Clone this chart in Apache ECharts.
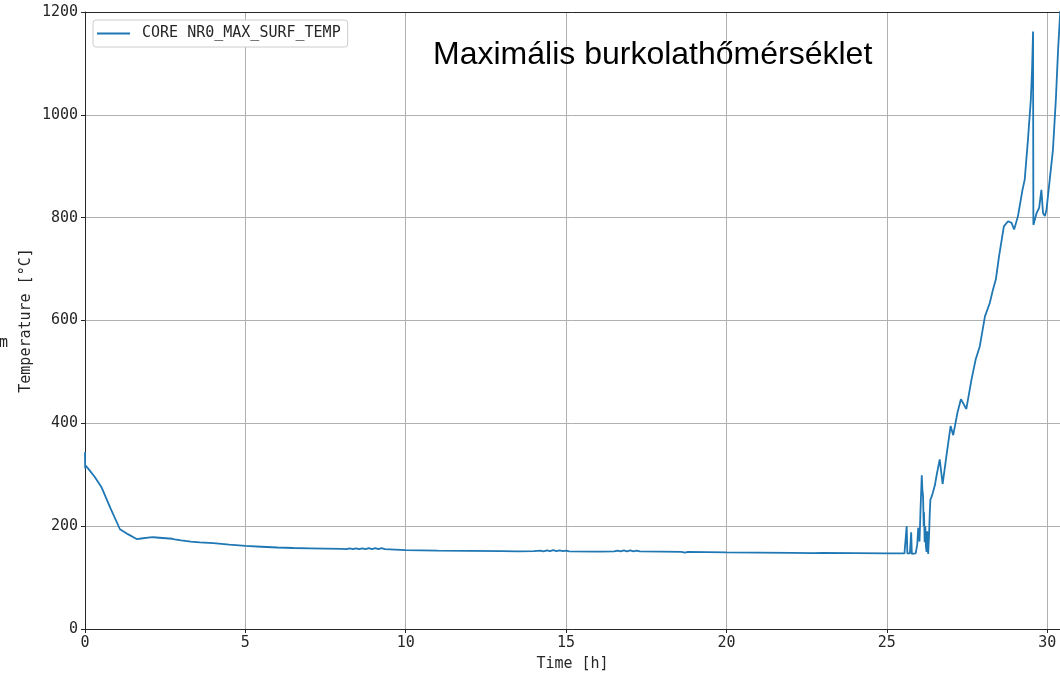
<!DOCTYPE html>
<html>
<head>
<meta charset="utf-8">
<script src="https://cdn.jsdelivr.net/npm/echarts@6/dist/echarts.min.js"></script>
<style>
  html, body { margin: 0; padding: 0; background: #fff; }
  #chart { width: 1060px; height: 677px; }
</style>
</head>
<body>
<div id="chart"></div>
<script>
// Maximum cladding surface temperature of core NR0 over time.
// Time in hours, temperature in °C.

// Early cool-down after start
const coolTime = [0, 0.005, 0.02, 0.1, 0.3, 0.52, 0.8, 1.09, 1.35, 1.61, 1.75, 2.03,
  2.08, 2.12, 2.17, 2.22, 2.27, 2.32, 2.37, 2.42, 2.47, 2.52, 2.57, 2.62, 2.67, 2.72, 2.8,
  3.0, 3.3, 3.58, 4.0, 4.5];
const coolTemp = [344, 312, 318, 312, 296, 275, 234, 194, 184, 175, 176, 178,
  176.5, 178.5, 176, 178, 175.5, 177.5, 175.5, 177, 175, 176.5, 174.5, 176, 174.5, 175.5, 174.5,
  172.5, 170, 168.5, 167, 164];

// Long quasi-steady plateau
const plateauTime = [5, 5.5, 6, 6.5, 7, 7.5, 8, 8.05, 8.15, 8.25, 8.35, 8.45, 8.55, 8.65, 8.75,
  8.85, 8.95, 9.05, 9.15, 9.25, 9.35, 9.4,
  10, 11, 12, 13, 13.5, 14, 14.2, 14.3, 14.4, 14.5, 14.6, 14.7, 14.8, 14.9, 15.0, 15.1,
  16, 16.5, 16.6, 16.7, 16.8, 16.9, 17.0, 17.1, 17.2, 17.3,
  18, 18.6, 18.7, 18.8, 20, 21, 22, 22.7, 23, 24, 25, 25.55];
const plateauTemp = [161.5, 160, 158.5, 157.5, 157, 156.5, 156, 157, 155.5, 157, 155.5, 157, 155.5, 157, 155.5,
  157.5, 155.5, 157.5, 155.5, 157.5, 155.5, 156,
  153.5, 152.5, 152, 151.5, 151, 151.5, 152.5, 151, 153, 151.5, 153.5, 151.5, 153, 151.5, 152.5, 151,
  150.5, 151, 152.5, 151, 153, 151, 153, 151, 152.5, 151,
  150.5, 150, 148.5, 150, 149, 148.5, 148, 147.5, 148, 147.5, 147, 147];

// Heat-up with oscillations
const heatTime = [25.6, 25.62, 25.64, 25.72, 25.76, 25.78, 25.9, 25.95, 25.98, 26.02, 26.05, 26.09,
  26.11, 26.13, 26.15, 26.16, 26.18, 26.2, 26.22, 26.24, 26.26, 26.29, 26.32, 26.34, 26.36, 26.39,
  26.44, 26.5, 26.55, 26.65, 26.74, 26.86, 26.99, 27.07, 27.2, 27.31, 27.48, 27.64, 27.77, 27.9,
  28.06, 28.21, 28.31, 28.4, 28.5, 28.65, 28.78, 28.89, 28.97, 29.09, 29.23, 29.3, 29.4, 29.49,
  29.53, 29.56, 29.565, 29.57, 29.59, 29.67, 29.75, 29.82, 29.87, 29.93, 29.98, 30.08, 30.18,
  30.27, 30.34, 30.42];
const heatTemp = [148, 200, 147, 147, 188, 146, 147, 165, 197, 170, 230, 299,
  270, 259, 200, 227, 169, 200, 160, 150, 190, 146, 188, 227, 252, 256,
  266, 280, 298, 330, 282, 337, 395, 377, 420, 447, 428, 485, 524, 550,
  608, 634, 660, 680, 725, 783, 793, 790, 777, 803, 854, 874, 951, 1029,
  1090, 1162, 950, 786, 790, 809, 819, 854, 809, 803, 816, 874, 932,
  1029, 1126, 1215];

const seriesName = 'CORE NR0_MAX_SURF_TEMP';
const titleText = 'Maximális burkolathőmérséklet';
const xTicks = { min: 0, max: 30.4, step: 5 };
const yTicks = { min: 0, max: 1200, step: 200 };

const times = coolTime.concat(plateauTime, heatTime);
const temps = coolTemp.concat(plateauTemp, heatTemp);
const points = times.map((t, i) => [t, temps[i]]);

const mono = 'DejaVu Sans Mono';
const ink = '#262626';

const chart = echarts.init(document.getElementById('chart'), null, { renderer: 'canvas' });
chart.setOption({
  animation: false,
  backgroundColor: '#fff',
  title: {
    text: titleText,
    left: 433,
    top: 39,
    padding: 0,
    textStyle: { fontFamily: 'Liberation Sans', fontSize: 32, fontWeight: 'normal', color: '#000' }
  },
  legend: {
    data: [seriesName],
    left: 93,
    top: 20,
    padding: [6, 7, 6, 4],
    icon: 'rect',
    itemWidth: 33,
    itemHeight: 2,
    backgroundColor: '#fff',
    borderColor: '#cccccc',
    borderWidth: 1,
    borderRadius: 3,
    textStyle: { fontFamily: mono, fontSize: 15, color: ink, padding: [0, 0, 0, 7] }
  },
  grid: { left: 85, right: 0, top: 12, bottom: 47, containLabel: false },
  xAxis: [{
    type: 'value',
    min: xTicks.min,
    max: xTicks.max,
    interval: xTicks.step,
    name: 'Time [h]',
    nameLocation: 'middle',
    nameGap: 28,
    nameMoveOverlap: false,
    nameTextStyle: { fontFamily: mono, fontSize: 15, color: ink },
    axisLine: { show: true, onZero: false, lineStyle: { color: ink, width: 1 } },
    axisTick: { show: true, length: 4, lineStyle: { color: ink } },
    axisLabel: { fontFamily: mono, fontSize: 15, color: ink, margin: 7, showMaxLabel: false,
      formatter: v => String(v) },
    splitLine: { show: true, lineStyle: { color: '#b0b0b0', width: 1 } }
  }, {
    type: 'value',
    position: 'top',
    min: xTicks.min,
    max: xTicks.max,
    axisLine: { show: true, onZero: false, lineStyle: { color: ink, width: 1 } },
    axisTick: { show: false },
    axisLabel: { show: false },
    splitLine: { show: false }
  }],
  yAxis: {
    type: 'value',
    min: yTicks.min,
    max: yTicks.max,
    interval: yTicks.step,
    name: 'Temperature [°C]',
    nameLocation: 'middle',
    nameGap: 51,
    nameMoveOverlap: false,
    nameRotate: 90,
    nameTextStyle: { fontFamily: mono, fontSize: 15, color: ink },
    axisLine: { show: true, onZero: false, lineStyle: { color: ink, width: 1 } },
    axisTick: { show: true, length: 4, lineStyle: { color: ink } },
    axisLabel: { fontFamily: mono, fontSize: 15, color: ink, margin: 7, formatter: v => String(v) },
    splitLine: { show: true, lineStyle: { color: '#b0b0b0', width: 1 } }
  },
  graphic: [{
    type: 'text',
    left: -1,
    top: 336,
    style: { text: 'm', font: '15px "DejaVu Sans Mono"', fill: ink }
  }],
  series: [{
    name: seriesName,
    type: 'line',
    xAxisIndex: 0,
    data: points,
    showSymbol: false,
    symbol: 'none',
    sampling: null,
    clip: true,
    lineStyle: { color: '#1f77b4', width: 1.8 },
    itemStyle: { color: '#1f77b4' }
  }]
});
</script>
</body>
</html>
